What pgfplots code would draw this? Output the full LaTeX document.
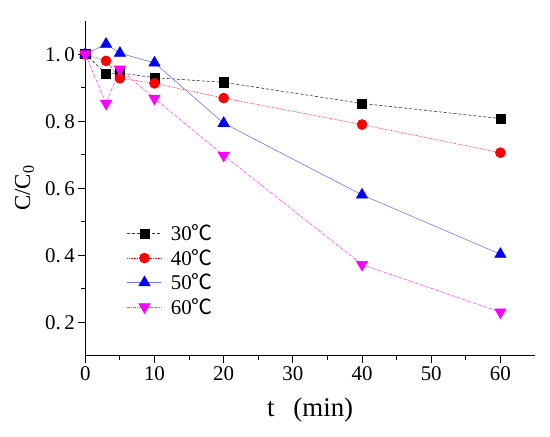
\documentclass[border=0pt]{standalone}
\usepackage{fontspec}
\setmainfont{Liberation Serif}
\newfontfamily\cjk{Noto Sans CJK SC}
\usepackage{pgfplots}
\pgfplotsset{compat=1.18}
\definecolor{mag}{RGB}{255,0,255}
\definecolor{mblue}{RGB}{0,0,255}
\definecolor{mred}{RGB}{255,0,0}
\newcommand{\dC}{{\cjk ℃}}
\begin{document}
\begin{tikzpicture}
\path[use as bounding box] (-85.3bp,-81.3bp) rectangle (464.7bp,355.7bp);
\begin{axis}[
  at={(0,0)}, anchor=south west,
  scale only axis, width=449.7bp, height=335bp,
  xmin=0, xmax=65, ymin=0.1, ymax=1.1,
  axis x line*=bottom, axis y line*=left,
  axis line style={line width=0.8pt, -},
  xtick={0,10,...,60}, ytick={0.2,0.4,...,1.0},
  minor x tick num=1, minor y tick num=1,
  tick align=outside,
  major tick length=7bp, minor tick length=4bp,
  tick style={line width=0.8pt, black},
  /pgf/number format/assume math mode=true,
  yticklabel style={/pgf/number format/.cd, fixed, fixed zerofill, precision=1, dec sep={.\,}},
  tick label style={font=\fontsize{21}{21}\selectfont},
  xlabel={t\hspace{0.7em}(min)},
  ylabel={C/C\textsubscript{0}},
  xlabel style={font=\fontsize{27}{27}\selectfont, at={(axis description cs:0.5,-0.163)}, anchor=center},
  ylabel style={font=\fontsize{23}{23}\selectfont, at={(axis description cs:-0.135,0.5)}, anchor=center},
  clip=false,
  legend style={at={(axis description cs:0.086,0.403)}, anchor=north west, draw=none, fill=none,
    font=\fontsize{21}{21}\selectfont, row sep=3bp, nodes={inner sep=2bp}},
  legend cell align=left,
  legend image code/.code={\draw[mark repeat=2,mark phase=2,#1] plot coordinates {(0cm,0cm) (0.6cm,0cm) (1.2cm,0cm)}; \path (1.45cm,0cm);},
]
\addplot[black!80, line width=0.6pt, dash pattern=on 3pt off 2pt, mark=square*, mark size=4.6bp, mark options={solid, fill=black, draw=black}]
  coordinates {(0,1.0) (3,0.942) (5,0.944) (10,0.930) (20,0.916) (40,0.853) (60,0.808)};
\addlegendentry{30\dC}
\addplot[mred, line width=0.6pt, densely dotted, mark=*, mark size=5bp, mark options={solid, fill=mred, draw=mred}]
  coordinates {(0,1.0) (3,0.980) (5,0.928) (10,0.913) (20,0.869) (40,0.790) (60,0.706)};
\addlegendentry{40\dC}
\addplot[mblue!55, line width=0.6pt, mark=triangle*, mark size=6.5bp, mark options={solid, fill=mblue, draw=mblue}]
  coordinates {(0,1.0) (3,1.030) (5,1.003) (10,0.974) (20,0.794) (40,0.580) (60,0.403)};
\addlegendentry{50\dC}
\addplot[mag!75, line width=0.6pt, densely dash dot, mark=triangle*, mark size=6.5bp, mark options={solid, fill=mag, draw=mag, rotate=180}]
  coordinates {(0,1.0) (3,0.853) (5,0.955) (10,0.868) (20,0.698) (40,0.372) (60,0.230)};
\addlegendentry{60\dC}
\end{axis}
\end{tikzpicture}
\end{document}
